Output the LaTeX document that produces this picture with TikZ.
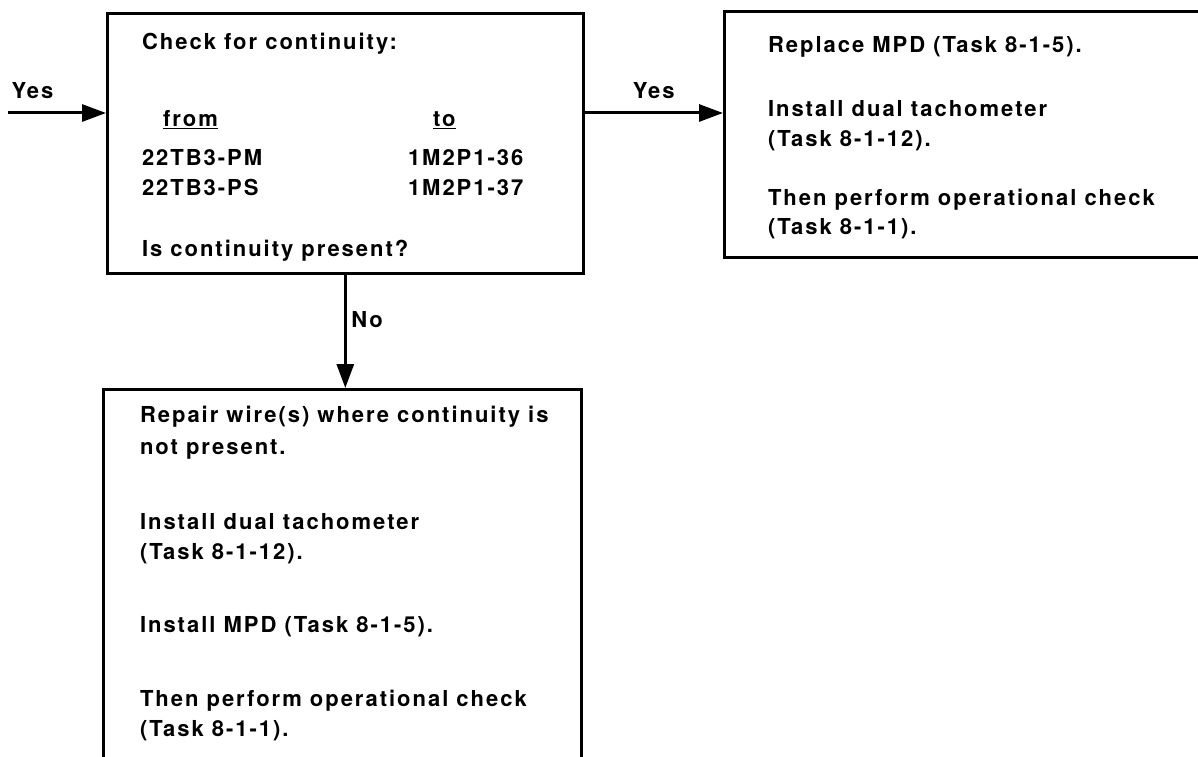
\documentclass[tikz,border=0pt]{standalone}
\usepackage{fontspec}
\setmainfont{TeX Gyre Heros}
\newfontfamily\boxfont[LetterSpace=9]{TeX Gyre Heros}
\usetikzlibrary{arrows.meta}

\tikzset{
  stepbox/.style={draw=drawColor,line width=2.6pt,rectangle,anchor=north west,inner sep=0pt},
  txt/.style={text=drawColor,anchor=base west,inner sep=0pt,outer sep=0pt,font=\boxfont\bfseries\fontsize{22}{26}\selectfont},
  flow/.style={draw=drawColor,line width=3pt,-{Triangle[length=24pt,width=17pt]}}
}

\begin{document}
\begin{tikzpicture}[x=1pt,y=1pt]
\definecolor{fillColor}{RGB}{255,255,255}
\definecolor{drawColor}{RGB}{0,0,0}
\path[use as bounding box,fill=fillColor] (0,0) rectangle (1198,756);

% boxes
\node[stepbox,minimum width=476pt,minimum height=260pt] (check) at (106,744) {};
\node[stepbox,minimum width=492pt,minimum height=246pt] (replace) at (723,746) {};
\node[stepbox,minimum width=478pt,minimum height=402pt] (repair) at (102,368) {};

% texts of the check box
\node[txt] (chkhead) at (142,706) {Check for continuity:};
\node[txt] (chkfrom) at (163,629) {\underline{from}};
\node[txt] (chkto) at (433,629) {\underline{to}};
\node[txt] (chkpm) at (142,590) {22TB3-PM};
\node[txt] (chkps) at (142,560) {22TB3-PS};
\node[txt] (chkpa) at (408,590) {1M2P1-36};
\node[txt] (chkpb) at (408,560) {1M2P1-37};
\node[txt] (chkask) at (142,499) {Is continuity present?};

% texts of the replace box
\node[txt] (repa) at (768,703) {Replace MPD (Task 8-1-5).};
\node[txt] (repb) at (768,639) {Install dual tachometer};
\node[txt] (repc) at (768,609) {(Task 8-1-12).};
\node[txt] (repd) at (768,550) {Then perform operational check};
\node[txt] (repe) at (768,521) {(Task 8-1-1).};

% texts of the repair box
\node[txt] (wira) at (140,334) {Repair wire(s) where continuity is};
\node[txt] (wirb) at (140,302) {not present.};
\node[txt] (wirc) at (140,227) {Install dual tachometer};
\node[txt] (wird) at (140,197) {(Task 8-1-12).};
\node[txt] (wire) at (140,124) {Install MPD (Task 8-1-5).};
\node[txt] (wirf) at (140,50) {Then perform operational check};
\node[txt] (wirg) at (140,20) {(Task 8-1-1).};

% connectors
\coordinate (entry) at (8,643);
\draw[flow] (entry) -- (entry -| check.west)
  node[txt,pos=0.25,anchor=base,yshift=14pt] (yesin) {Yes};
\draw[flow] (check.east |- entry) -- (replace.west |- entry)
  node[txt,midway,anchor=base,yshift=14pt] (yesout) {Yes};
\draw[flow] (check.south) -- (check.south |- repair.north)
  node[txt,pos=0.47,anchor=base west,xshift=6pt] (no) {No};
\end{tikzpicture}
\end{document}
